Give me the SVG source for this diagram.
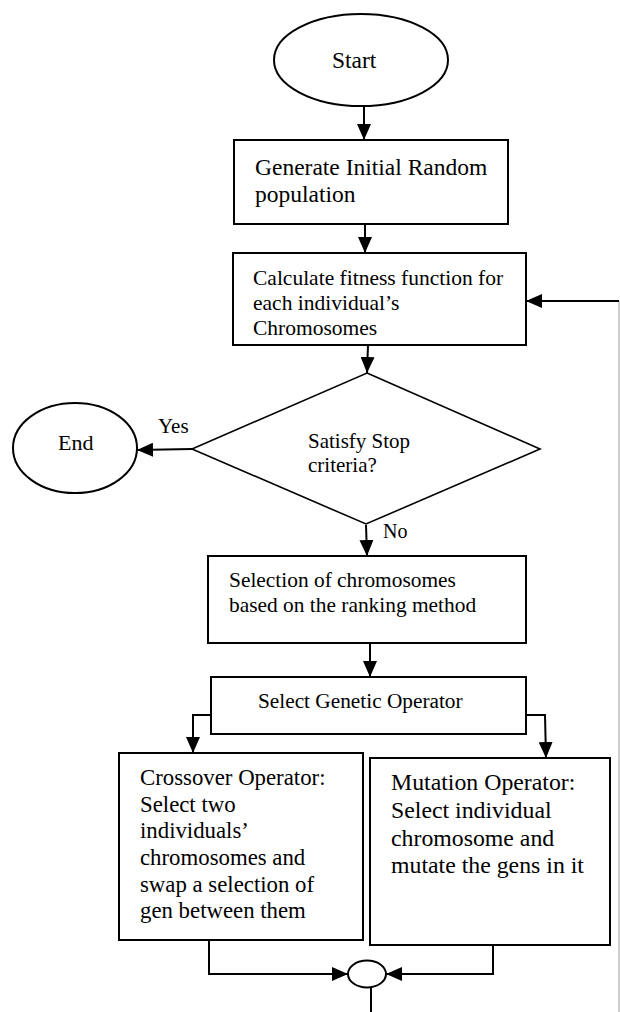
<svg xmlns="http://www.w3.org/2000/svg" width="620" height="1012" viewBox="0 0 620 1012">
<style>
.s{fill:#fff;stroke:#000;stroke-width:2}
.d{fill:#fff;stroke:#000;stroke-width:1.6}
.t{font-family:"Liberation Serif","Times New Roman",serif;fill:#000}
.c{fill:none;stroke:#000;stroke-width:2}
.g{fill:none;stroke:#999;stroke-width:1}
</style>
<defs>
<marker id="ah" markerUnits="userSpaceOnUse" markerWidth="16" markerHeight="14" refX="16" refY="7" orient="auto">
<path d="M0,0 L16,7 L0,14 z" fill="#000"/>
</marker>
</defs>
<rect width="620" height="1012" fill="#fff"/>
<g id="start">
<ellipse class="s" cx="361" cy="60" rx="87" ry="46"/>
<text class="t" x="332" y="68" font-size="23.5">Start</text>
</g>
<g id="generate">
<rect class="s" x="234" y="140" width="274" height="84"/>
<text class="t" x="255" y="175" font-size="23.5">Generate Initial Random</text>
<text class="t" x="255" y="202" font-size="23.5">population</text>
</g>
<g id="fitness">
<rect class="s" x="233" y="253" width="293" height="92"/>
<text class="t" x="253" y="285" font-size="21.5">Calculate fitness function for</text>
<text class="t" x="253" y="310" font-size="21.5">each individual’s</text>
<text class="t" x="253" y="335" font-size="21.5">Chromosomes</text>
</g>
<g id="decision">
<polygon class="d" points="367,373 540,449 366,524 192,449"/>
<text class="t" x="308" y="448" font-size="21">Satisfy Stop</text>
<text class="t" x="308" y="472" font-size="21">criteria?</text>
</g>
<g id="end">
<ellipse class="s" cx="75" cy="448" rx="62" ry="45"/>
<text class="t" x="58" y="450" font-size="22">End</text>
</g>
<g id="selection">
<rect class="s" x="208" y="556" width="318" height="87"/>
<text class="t" x="229" y="587" font-size="21.4">Selection of chromosomes</text>
<text class="t" x="229" y="612" font-size="21.4">based on the ranking method</text>
</g>
<g id="operator">
<rect class="s" x="211" y="677" width="315" height="57"/>
<text class="t" x="258" y="708" font-size="21.3">Select Genetic Operator</text>
</g>
<g id="crossover">
<rect class="s" x="119" y="753" width="244" height="187"/>
<text class="t" font-size="22.8"><tspan x="140" y="785">Crossover Operator:</tspan><tspan x="140" y="812">Select two</tspan><tspan x="140" y="838">individuals’</tspan><tspan x="140" y="865">chromosomes and</tspan><tspan x="140" y="892">swap a selection of</tspan><tspan x="140" y="918">gen between them</tspan></text>
</g>
<g id="mutation">
<rect class="s" x="370" y="758" width="240" height="187"/>
<text class="t" font-size="23.8"><tspan x="391" y="790">Mutation Operator:</tspan><tspan x="391" y="818">Select individual</tspan><tspan x="391" y="846">chromosome and</tspan><tspan x="391" y="873">mutate the gens in it</tspan></text>
</g>
<g id="join">
<ellipse class="s" cx="367" cy="974" rx="19" ry="13.5"/>
</g>
<g id="connectors">
<line class="c" x1="364" y1="106" x2="364" y2="140" marker-end="url(#ah)"/>
<line class="c" x1="365" y1="224" x2="365" y2="253" marker-end="url(#ah)"/>
<line class="c" x1="368" y1="345" x2="367" y2="373" marker-end="url(#ah)"/>
<line class="c" x1="192" y1="449" x2="137" y2="450" marker-end="url(#ah)"/>
<text class="t" x="158" y="433" font-size="21">Yes</text>
<line class="c" x1="366" y1="525" x2="367" y2="556" marker-end="url(#ah)"/>
<text class="t" x="383" y="538" font-size="20">No</text>
<line class="c" x1="370" y1="643" x2="370" y2="677" marker-end="url(#ah)"/>
<polyline class="c" points="211,715 193,715 193,753" marker-end="url(#ah)"/>
<polyline class="c" points="526,715 545,715 546,758" marker-end="url(#ah)"/>
<polyline class="c" points="209,940 209,974 348,974" marker-end="url(#ah)"/>
<polyline class="c" points="493,945 493,974 386,974" marker-end="url(#ah)"/>
<line class="c" x1="371" y1="987" x2="371" y2="1012"/>
<line class="g" x1="619" y1="301" x2="619" y2="1012"/>
<line class="c" x1="619" y1="301" x2="526" y2="301" marker-end="url(#ah)"/>
</g>
</svg>
